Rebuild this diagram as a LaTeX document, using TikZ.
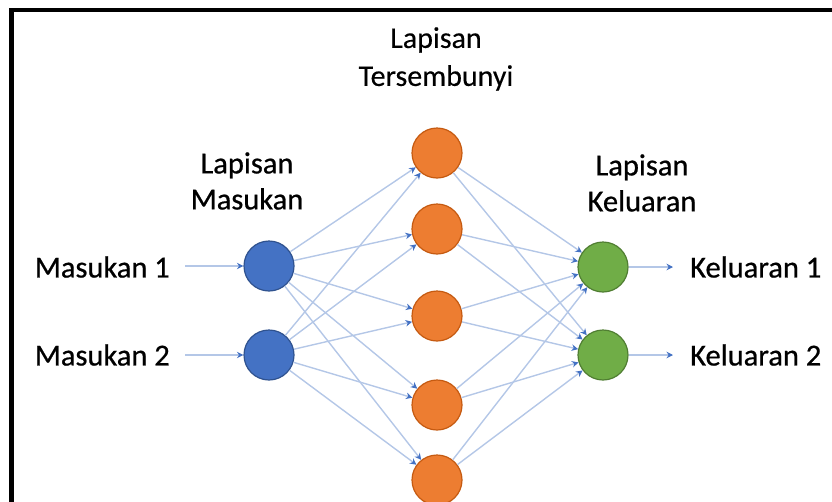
\documentclass[tikz,border=0pt]{standalone}
\usepackage{fontspec}
\setmainfont{Carlito}
\newfontfamily\heavyfont[FakeBold=0.7]{Carlito}
\newfontfamily\midfont[FakeBold=0.3]{Carlito}
\usetikzlibrary{arrows.meta}
\definecolor{inblue}{HTML}{4472C4}
\definecolor{inblueD}{HTML}{2F528F}
\definecolor{hidor}{HTML}{ED7D31}
\definecolor{hidorD}{HTML}{C55A11}
\definecolor{outgr}{HTML}{70AD47}
\definecolor{outgrD}{HTML}{507E32}
\definecolor{linkblue}{HTML}{B4C7E7}
\definecolor{tipblue}{HTML}{4472C4}
\begin{document}
\begin{tikzpicture}[x=1pt,y=-1pt,
  neuron/.style={circle,minimum size=50pt,inner sep=0pt,line width=1.2pt},
  inn/.style={neuron,fill=inblue,draw=inblueD},
  hid/.style={neuron,fill=hidor,draw=hidorD},
  outn/.style={neuron,fill=outgr,draw=outgrD},
  conn/.style={draw=linkblue,line width=1.4pt,-{Stealth[length=6.5pt,width=6.5pt,color=tipblue]}},
  lbl/.style={font=\heavyfont\fontsize{30.5}{36}\selectfont,inner sep=0pt},
  ttl/.style={lbl,align=center},
  ttltop/.style={font=\midfont\fontsize{30}{38}\selectfont,inner sep=0pt,align=center}]
\useasboundingbox (0,0) rectangle (832,501);
\clip (0,0) rectangle (832,501);
% frame (only left and top edges visible)
\draw[line width=4.5pt] (11.5,520) |- (850,10);

% neurons
\node[inn] (i1) at (269,266) {};
\node[inn] (i2) at (269,355) {};
\node[hid] (h1) at (437,153) {};
\node[hid] (h2) at (437,229) {};
\node[hid] (h3) at (437,316) {};
\node[hid] (h4) at (437,405) {};
\node[hid] (h5) at (437,480) {};
\node[outn] (o1) at (603,267) {};
\node[outn] (o2) at (603,355) {};

% labels
\node[lbl,anchor=east] (m1) at (170,267) {Masukan 1};
\node[lbl,anchor=east] (m2) at (170,355) {Masukan 2};
\node[lbl,anchor=west] (k1) at (690,267) {Keluaran 1};
\node[lbl,anchor=west] (k2) at (690,355) {Keluaran 2};
\node[ttl] (tin) at (247,181) {Lapisan\\Masukan};
\node[ttltop] (thid) at (436,59) {Lapisan\\Tersembunyi};
\node[ttl] (tout) at (642,183) {Lapisan\\Keluaran};

% input / output arrows
\coordinate (a1) at (185,266);
\coordinate (a2) at (185,355);
\coordinate (b1) at (673,267);
\coordinate (b2) at (673,355);
\draw[conn] (a1) -- (i1);
\draw[conn] (a2) -- (i2);
\draw[conn] (o1) -- (b1);
\draw[conn] (o2) -- (b2);

% connections
\foreach \i in {i1,i2}
  \foreach \h in {h1,h2,h3,h4,h5}
    \draw[conn] (\i) -- (\h);
\foreach \h in {h1,h2,h3,h4,h5}
  \foreach \o in {o1,o2}
    \draw[conn] (\h) -- (\o);
\end{tikzpicture}
\end{document}
